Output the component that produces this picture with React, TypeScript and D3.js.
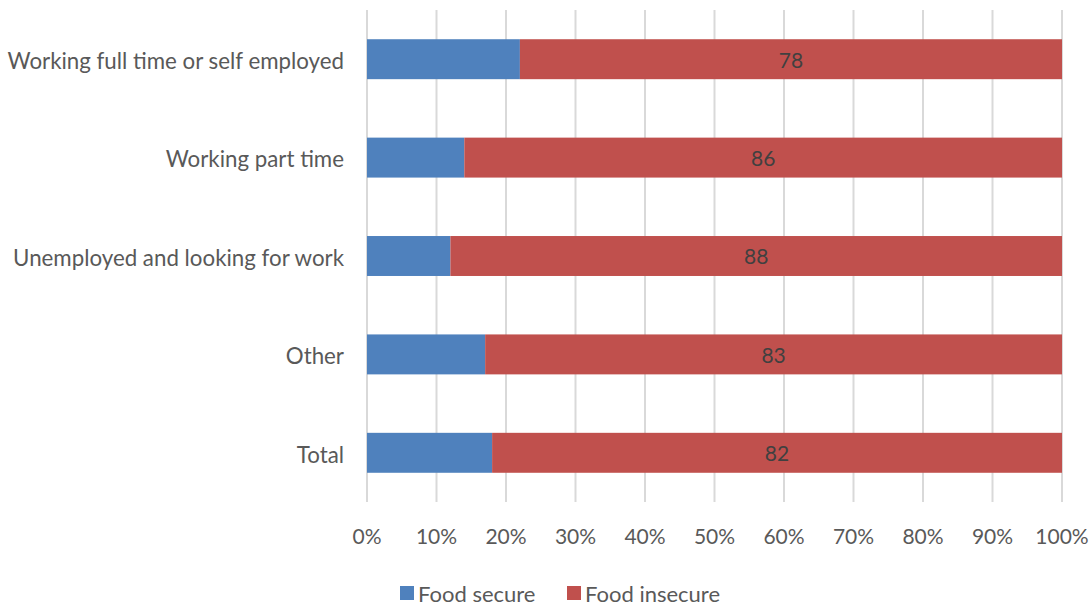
import React from "react";
import * as d3 from "d3";

const categories = [
  "Working full time or self employed",
  "Working part time",
  "Unemployed and looking for work",
  "Other",
  "Total",
];
const foodSecure = [22, 14, 12, 17, 18];
const foodInsecure = [78, 86, 88, 83, 82];
const xTicks = [0, 10, 20, 30, 40, 50, 60, 70, 80, 90, 100];
const seriesNames = ["Food secure", "Food insecure"];
const colors = ["#4f81bd", "#c0504d"];

export default function App() {
  const W = 1089, H = 606;
  const left = 367, right = 1062, top = 10, bottom = 502;
  const x = d3.scaleLinear().domain([0, 100]).range([left, right]);
  const y = d3.scaleBand().domain(categories).range([top, bottom]).paddingInner(0.594).paddingOuter(0.297);
  const font = "Lato, 'Open Sans', sans-serif";
  return (
    <svg width={W} height={H} style={{ position: "absolute", left: 0, top: 0 }} fontFamily={font}>
      <rect width={W} height={H} fill="#fff" />
      {xTicks.map((t) => (
        <line key={t} x1={x(t)} x2={x(t)} y1={top} y2={bottom} stroke="#d9d9d9" strokeWidth={2} />
      ))}
      {categories.map((c, i) => {
        const y0 = y(c)!;
        const bh = y.bandwidth();
        return (
          <g key={c}>
            <rect x={x(0)} y={y0} width={x(foodSecure[i]) - x(0)} height={bh} fill={colors[0]} />
            <rect x={x(foodSecure[i])} y={y0} width={x(foodSecure[i] + foodInsecure[i]) - x(foodSecure[i])} height={bh} fill={colors[1]} />
            <text x={(x(foodSecure[i]) + x(100)) / 2} y={y0 + bh / 2 + 1} dy="0.35em" textAnchor="middle" fontSize={21} fill="#404040">
              {foodInsecure[i]}
            </text>
            <text x={344} y={y0 + bh / 2 + 2} dy="0.35em" textAnchor="end" fontSize={22.3} fill="#595959">
              {c}
            </text>
          </g>
        );
      })}
      {xTicks.map((t) => (
        <text key={t} x={x(t)} y={537} dy="0.35em" textAnchor="middle" fontSize={21} fill="#595959">
          {t}%
        </text>
      ))}
      <rect x={400} y={586} width={14} height={14} fill={colors[0]} />
      <text x={418} y={594} dy="0.35em" fontSize={22} fill="#595959">{seriesNames[0]}</text>
      <rect x={567} y={586} width={14} height={14} fill={colors[1]} />
      <text x={585} y={594} dy="0.35em" fontSize={22} fill="#595959">{seriesNames[1]}</text>
    </svg>
  );
}
